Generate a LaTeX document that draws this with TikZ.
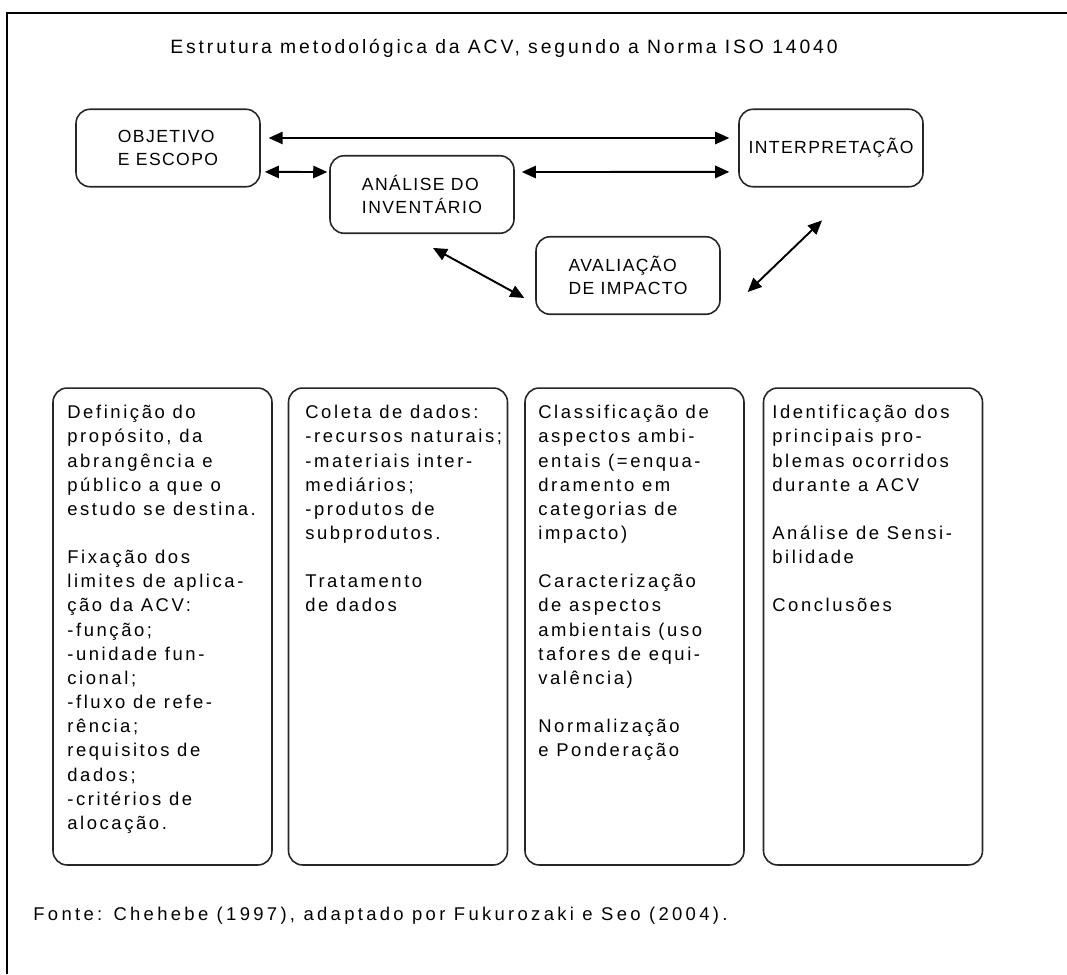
\documentclass[tikz,border=0pt]{standalone}
\usepackage{fontspec}
\setmainfont{Liberation Sans}
\newfontfamily\spacedfont[LetterSpace=14]{Liberation Sans}
\newfontfamily\titlefont[LetterSpace=15]{Liberation Sans}
\newfontfamily\notefont[LetterSpace=18]{Liberation Sans}
\newfontfamily\labelfont[LetterSpace=8]{Liberation Sans}
\usetikzlibrary{arrows.meta}

\tikzset{
  stage/.style={draw=black!85, line width=0.9pt, rounded corners=8pt,
    minimum width=3.68cm, minimum height=1.55cm, align=left,
    font=\labelfont\fontsize{10}{13}\selectfont},
  panel/.style={draw=black!85, line width=0.9pt, rounded corners=8pt,
    minimum width=4.38cm, minimum height=9.54cm},
  panetext/.style={anchor=north west, inner sep=0pt, align=left,
    font=\spacedfont\fontsize{10.5}{13.75}\selectfont},
  link/.style={{Triangle[length=8pt,width=7pt]}-{Triangle[length=8pt,width=7pt]}, line width=1.1pt}
}

\begin{document}
\begin{tikzpicture}[x=0.02cm, y=-0.02cm]
	\useasboundingbox (0,0) rectangle (1067,974);
	\draw [line width=1.7pt] (7,974) -- (7,13) -- (1067,13);

	\node (title) [font=\titlefont\fontsize{11}{13}\selectfont] at (504,48) {Estrutura metodológica da ACV, segundo a Norma ISO 14040};

	% fases
	\node (obj) [stage] at (168,148) {OBJETIVO\\E ESCOPO};
	\node (inv) [stage] at (422,194.5) {ANÁLISE DO\\INVENTÁRIO};
	\node (interp) [stage] at (831,148) {INTERPRETAÇÃO};
	\node (aval) [stage] at (628,275.5) {AVALIAÇÃO\\DE IMPACTO};

	\draw [link] ([xshift=4.5pt,yshift=5.7pt]obj.east) -- ([xshift=-5.1pt,yshift=5.7pt]interp.west);
	\draw [link] ([xshift=2.3pt,yshift=-13.6pt]obj.east) -- ([xshift=-1.1pt,yshift=12.8pt]inv.west);
	\draw [link] ([xshift=4pt,yshift=12.8pt]inv.east) -- ([xshift=-5.1pt,yshift=-13.6pt]interp.west);
	\draw [link] ([xshift=6.2pt,yshift=-7.9pt]inv.south) -- ([xshift=-6.2pt,yshift=-12.8pt]aval.west);
	\draw [link] ([xshift=15.3pt,yshift=-9.4pt]aval.east) -- ([xshift=-5.1pt,yshift=-18.7pt]interp.south);

	% quadros
	\node (objbox) [panel] at (162.5,626.5) {};
	\node (invbox) [panel] at (398,626.5) {};
	\node (avalbox) [panel] at (634.5,626.5) {};
	\node (interpbox) [panel] at (873,626.5) {};

	\node (objtxt) [panetext] at (67,405) {Definição do\\propósito, da\\abrangência e\\público a que o\\estudo se destina.\\[13.75pt]Fixação dos\\limites de aplica-\\ção da ACV:\\-função;\\-unidade fun-\\cional;\\-fluxo de refe-\\rência;\\requisitos de\\dados;\\-critérios de\\alocação.};
	\node (invtxt) [panetext] at (305,405) {Coleta de dados:\\-recursos naturais;\\-materiais inter-\\mediários;\\-produtos de\\subprodutos.\\[13.75pt]Tratamento\\de dados};
	\node (avaltxt) [panetext] at (538,405) {Classificação de\\aspectos ambi-\\entais (=enqua-\\dramento em\\categorias de\\impacto)\\[13.75pt]Caracterização\\de aspectos\\ambientais (uso\\tafores de equi-\\valência)\\[13.75pt]Normalização\\e Ponderação};
	\node (interptxt) [panetext] at (772,405) {Identificação dos\\principais pro-\\blemas ocorridos\\durante a ACV\\[13.75pt]Análise de Sensi-\\bilidade\\[13.75pt]Conclusões};

	\node (fonte) [anchor=west, inner sep=0pt, font=\notefont\fontsize{10.5}{12}\selectfont] at (33,916) {Fonte: Chehebe (1997), adaptado por Fukurozaki e Seo (2004).};
\end{tikzpicture}
\end{document}
